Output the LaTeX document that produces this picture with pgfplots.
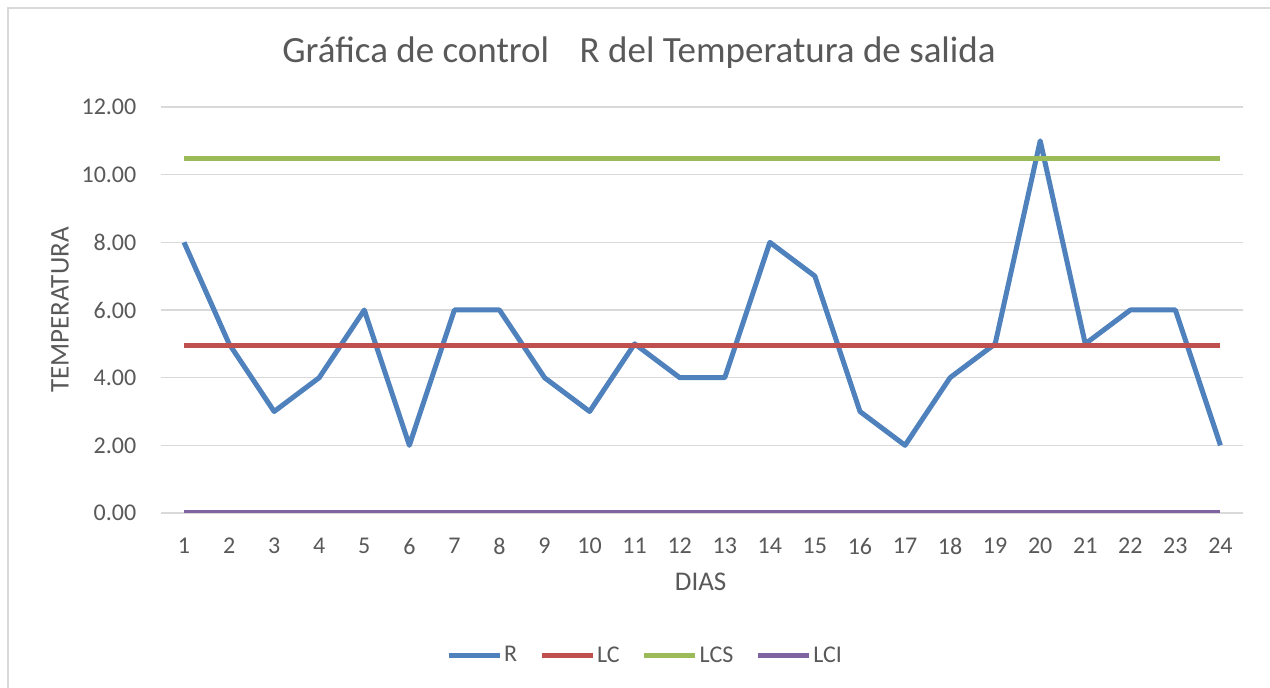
\documentclass[border=0pt]{standalone}
\usepackage{fontspec}
\setmainfont{Carlito}
\usepackage{pgfplots}
\pgfplotsset{compat=1.18}
\definecolor{txt}{HTML}{595959}
\definecolor{gridc}{HTML}{D9D9D9}
\definecolor{cR}{HTML}{4F81BD}
\definecolor{cLC}{HTML}{C0504D}
\definecolor{cLCS}{HTML}{9BBB59}
\definecolor{cLCI}{HTML}{8064A2}
\begin{document}
\begin{tikzpicture}
\useasboundingbox (0pt,0pt) rectangle (1270pt,688pt);
\fill[white] (0pt,0pt) rectangle (1270pt,688pt);
% outer chart border (top and left edges visible)
\draw[gridc,line width=1.5pt] (8pt,0pt) -- (8pt,680pt) -- (1270pt,680pt);
\node[txt,anchor=base,font=\fontsize{37}{42}\selectfont] at (639pt,625pt)
  {Gráfica de control\hspace{0.6em} R del Temperatura de salida};
\begin{axis}[
  at={(161.5pt,175pt)}, anchor=south west,
  scale only axis, width=1081.5pt, height=406pt,
  xmin=0.5, xmax=24.5, ymin=0, ymax=12,
  xtick={1,...,24}, ytick={0,2,...,12},
  axis line style={draw=none},
  tick align=outside, major tick length=25pt,
  tick style={draw=none},
  ymajorgrids, grid style={gridc,line width=1.5pt},
  tick label style={txt,font=\fontsize{24}{28}\selectfont},
  /pgf/number format/assume math mode=true,
  yticklabel={\pgfmathprintnumber[fixed,fixed zerofill,precision=2]{\tick}},
  yticklabel style={anchor=east,inner sep=0pt},
  xticklabel style={anchor=north,inner sep=0pt},
  xlabel={DIAS}, ylabel={TEMPERATURA},
  label style={txt,font=\fontsize{27}{30}\selectfont},
  xlabel style={at={(axis description cs:0.4985,-0.1897)},anchor=base},
  ylabel style={at={(axis description cs:-0.0939,0.5)},anchor=center,rotate=0},
  legend columns=4,
  legend style={at={(axis description cs:0.4471,-0.3498)},anchor=center,
    draw=none,fill=none,text=txt,font=\fontsize{24}{28}\selectfont,
    /tikz/every even column/.append style={column sep=20pt}},
  legend image code/.code={\draw[#1] (0pt,0pt) -- (51pt,0pt);},
  every axis plot/.append style={line width=5pt,line join=round},
]
\addplot[cR] coordinates {
  (1,8) (2,5) (3,3) (4,4) (5,6) (6,2) (7,6) (8,6) (9,4) (10,3) (11,5) (12,4)
  (13,4) (14,8) (15,7) (16,3) (17,2) (18,4) (19,5) (20,11) (21,5) (22,6) (23,6) (24,2)
};
\addlegendentry{R}
\addplot[cLC] coordinates {(1,4.958) (24,4.958)};
\addlegendentry{LC}
\addplot[cLCS] coordinates {(1,10.48) (24,10.48)};
\addlegendentry{LCS}
\addplot[cLCI] coordinates {(1,0) (24,0)};
\addlegendentry{LCI}
\end{axis}
\end{tikzpicture}
\end{document}
